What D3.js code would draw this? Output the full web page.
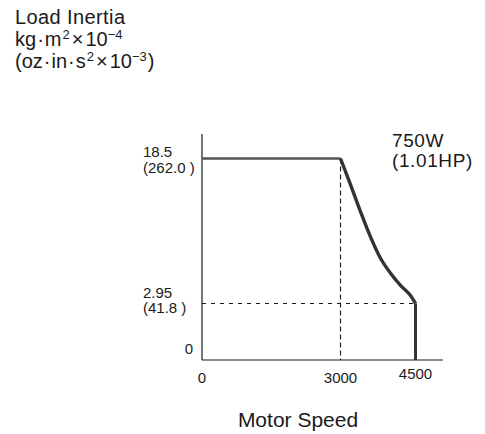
<!DOCTYPE html>
<html>
<head>
<meta charset="utf-8">
<script src="https://cdn.jsdelivr.net/npm/d3@7"></script>
<style>
  html, body { margin: 0; padding: 0; background: #fff; }
  svg { display: block; font-family: "Liberation Sans", Arial, Helvetica, sans-serif; }
</style>
</head>
<body>
<div id="chart"></div>
<script>
// Speed (r/min) vs allowable load inertia, 750 W motor
const speedPts   = [0, 3000, 3200, 3400, 3600, 3800, 4000, 4200, 4400, 4500, 4500];
const inertiaPts = [18.5, 18.5, 15.7, 12.8, 10.1, 7.8, 6.2, 4.9, 3.8, 2.95, 0];

const xTicks = [0, 3000, 4500];
const yTickMain = ['0', '2.95', '18.5'];
const yTickSub  = ['', '(41.8 )', '(262.0 )'];
const yTickVals = [0, 2.95, 18.5];

const W = 485, H = 434;
const svg = d3.select('#chart').append('svg')
  .attr('width', W).attr('height', H);

// the printed axes are not linear, so use piecewise scales
const x = d3.scaleLinear().domain([0, 3000, 4500, 5050]).range([202, 340.5, 415.5, 443]);
const y = d3.scaleLinear().domain([0, 2.95, 18.5, 21.1]).range([360, 303.5, 158.5, 134]);

const ink = '#1a1a1a';

// ── axis lines ──────────────────────────────────────────────
svg.append('line')
  .attr('x1', x(0)).attr('x2', x(0))
  .attr('y1', y(21.1)).attr('y2', y(0))
  .attr('stroke', ink).attr('stroke-width', 1.2);
svg.append('line')
  .attr('x1', x(0)).attr('x2', x(5050))
  .attr('y1', y(0)).attr('y2', y(0))
  .attr('stroke', ink).attr('stroke-width', 1.2);

// ── reference dashes ────────────────────────────────────────
svg.append('line')
  .attr('x1', x(0)).attr('x2', x(4500))
  .attr('y1', y(2.95)).attr('y2', y(2.95))
  .attr('stroke', ink).attr('stroke-width', 1)
  .attr('stroke-dasharray', '4 5');
svg.append('line')
  .attr('x1', x(3000)).attr('x2', x(3000))
  .attr('y1', y(18.5)).attr('y2', y(0))
  .attr('stroke', ink).attr('stroke-width', 1.1)
  .attr('stroke-dasharray', '5 3');

// ── the limit curve ─────────────────────────────────────────
const pts = speedPts.map((s, i) => [s, inertiaPts[i]]);
const straight = d3.line().x(d => x(d[0])).y(d => y(d[1]));
const smooth = d3.line().x(d => x(d[0])).y(d => y(d[1])).curve(d3.curveMonotoneX);

svg.append('path')
  .attr('d', straight(pts.slice(0, 2)))
  .attr('fill', 'none').attr('stroke', '#555').attr('stroke-width', 2.6);
svg.append('path')
  .attr('d', smooth(pts.slice(1, 10)))
  .attr('fill', 'none').attr('stroke', '#333').attr('stroke-width', 3.4)
  .attr('stroke-linejoin', 'round');
svg.append('path')
  .attr('d', straight(pts.slice(9)))
  .attr('fill', 'none').attr('stroke', '#333').attr('stroke-width', 3);

// ── tick labels ─────────────────────────────────────────────
const tickFont = 15;
svg.append('g').selectAll('text').data(xTicks).join('text')
  .attr('x', d => x(d))
  .attr('y', d => d === 4500 ? 379 : 383)
  .attr('text-anchor', 'middle')
  .attr('font-size', tickFont)
  .attr('fill', ink)
  .text(d => d);

// label offsets from the reference line (the printed ones differ)
const mainDy = { 0: -6, 2.95: -6, 18.5: -1.5 };
yTickVals.forEach((v, i) => {
  if (v === 0) {
    svg.append('text')
      .attr('x', 193).attr('y', y(v) + mainDy[v])
      .attr('text-anchor', 'end')
      .attr('font-size', tickFont).attr('fill', ink)
      .text(yTickMain[i]);
  } else {
    svg.append('text')
      .attr('x', 143).attr('y', y(v) + mainDy[v])
      .attr('font-size', tickFont).attr('fill', ink)
      .text(yTickMain[i]);
    svg.append('text')
      .attr('x', 143).attr('y', y(v) + mainDy[v] + 15.5)
      .attr('font-size', tickFont).attr('fill', ink)
      .text(yTickSub[i]);
  }
});

// ── titles ──────────────────────────────────────────────────
const big = 20, sup = 13;
function supLine(yy, parts) {
  const t = svg.append('text').attr('x', 15).attr('y', yy)
    .attr('font-size', big).attr('fill', ink);
  parts.forEach(p => {
    const s = t.append('tspan').text(p.t);
    if (p.sup) s.attr('font-size', sup).attr('dy', -7);
    if (p.down) s.attr('dy', 7);
    if (p.dx) s.attr('dx', p.dx);
  });
  return t;
}

svg.append('text').attr('x', 15).attr('y', 24)
  .attr('font-size', big).attr('letter-spacing', 0.4).attr('fill', ink)
  .text('Load Inertia');

supLine(46, [
  { t: 'kg' }, { t: '·', dx: 1 }, { t: 'm', dx: 1 },
  { t: '2', sup: true, dx: 1 },
  { t: '×', down: true, dx: 2 },
  { t: '10', dx: 2 },
  { t: '−4', sup: true }
]);

supLine(68, [
  { t: '(oz' }, { t: '·', dx: 1 }, { t: 'in', dx: 1 }, { t: '·', dx: 1 }, { t: 's', dx: 1 },
  { t: '2', sup: true, dx: 1 },
  { t: '×', down: true, dx: 2 },
  { t: '10', dx: 2 },
  { t: '−3', sup: true },
  { t: ')', down: true, dx: 1 }
]);

svg.append('text').attr('x', 392).attr('y', 147)
  .attr('font-size', 19).attr('letter-spacing', 0.6).attr('fill', ink).text('750W');
svg.append('text').attr('x', 392).attr('y', 167)
  .attr('font-size', 19).attr('letter-spacing', 0.6).attr('fill', ink).text('(1.01HP)');

svg.append('text').attr('x', 298).attr('y', 427)
  .attr('text-anchor', 'middle')
  .attr('font-size', 21).attr('fill', ink).text('Motor Speed');
</script>
</body>
</html>
